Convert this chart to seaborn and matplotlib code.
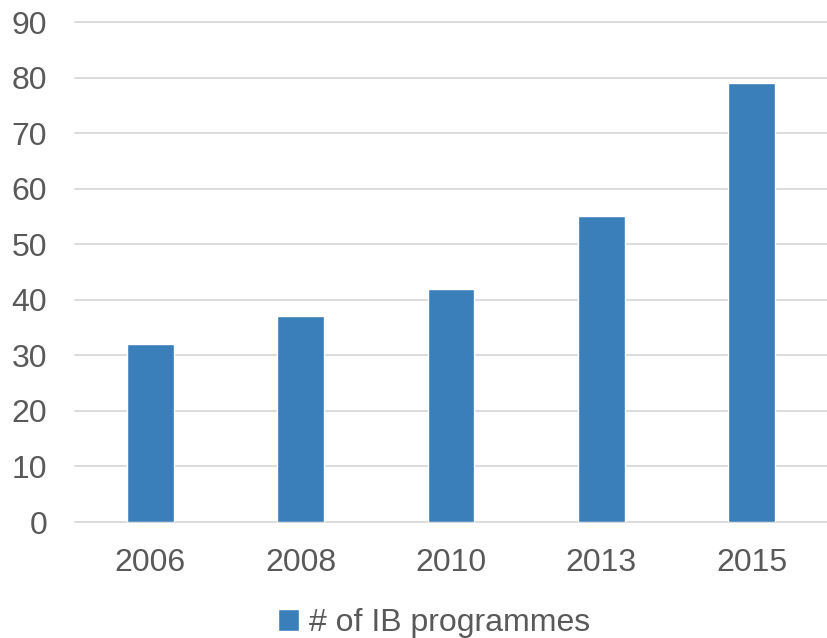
import pandas as pd
import matplotlib
matplotlib.use("Agg")
import matplotlib.pyplot as plt
import seaborn as sns

# данные
years = ["2006", "2008", "2010", "2013", "2015"]
counts = [32, 37, 42, 55, 79]
series_name = "# of IB programmes"

BAR_COLOR = "#3A7EBA"
TEXT_COLOR = "#595959"
GRID_COLOR = "#D9D9D9"

df = pd.DataFrame({"year": years, "count": counts, "series": series_name})

sns.set_style("white")
plt.rcParams["font.family"] = ["Liberation Sans", "DejaVu Sans"]

fig = plt.figure(figsize=(8.27, 6.38), dpi=100)
ax = fig.add_axes([0.0907, 0.1818, 0.9093, 0.7837])

sns.barplot(data=df, x="year", y="count", hue="series", palette=[BAR_COLOR],
            width=0.31, saturation=1, ax=ax, legend=True, zorder=3)

ax.set_ylim(0, 90)
ax.set_yticks(range(0, 91, 10))
ax.yaxis.grid(True, color=GRID_COLOR, linewidth=1.3, zorder=0)
ax.set_axisbelow(True)
for sp in ax.spines.values():
    sp.set_visible(False)
# верхняя линия сетки (90) обрезается осями, рисуем без клиппинга
for gl in ax.get_ygridlines():
    gl.set_clip_on(False)

ax.set_xlabel("")
ax.set_ylabel("")
ax.tick_params(axis="y", length=0, pad=20, labelsize=23, labelcolor=TEXT_COLOR)
ax.tick_params(axis="x", length=0, pad=18.5, labelsize=23, labelcolor=TEXT_COLOR)

handles, labels = ax.get_legend_handles_labels()
ax.get_legend().remove()
fig.legend(handles, labels, loc="center", bbox_to_anchor=(0.525, 0.023),
           frameon=False, fontsize=23, labelcolor=TEXT_COLOR,
           handlelength=0.65, handleheight=0.65, handletextpad=0.3)

fig.savefig("out.png", dpi=100)
